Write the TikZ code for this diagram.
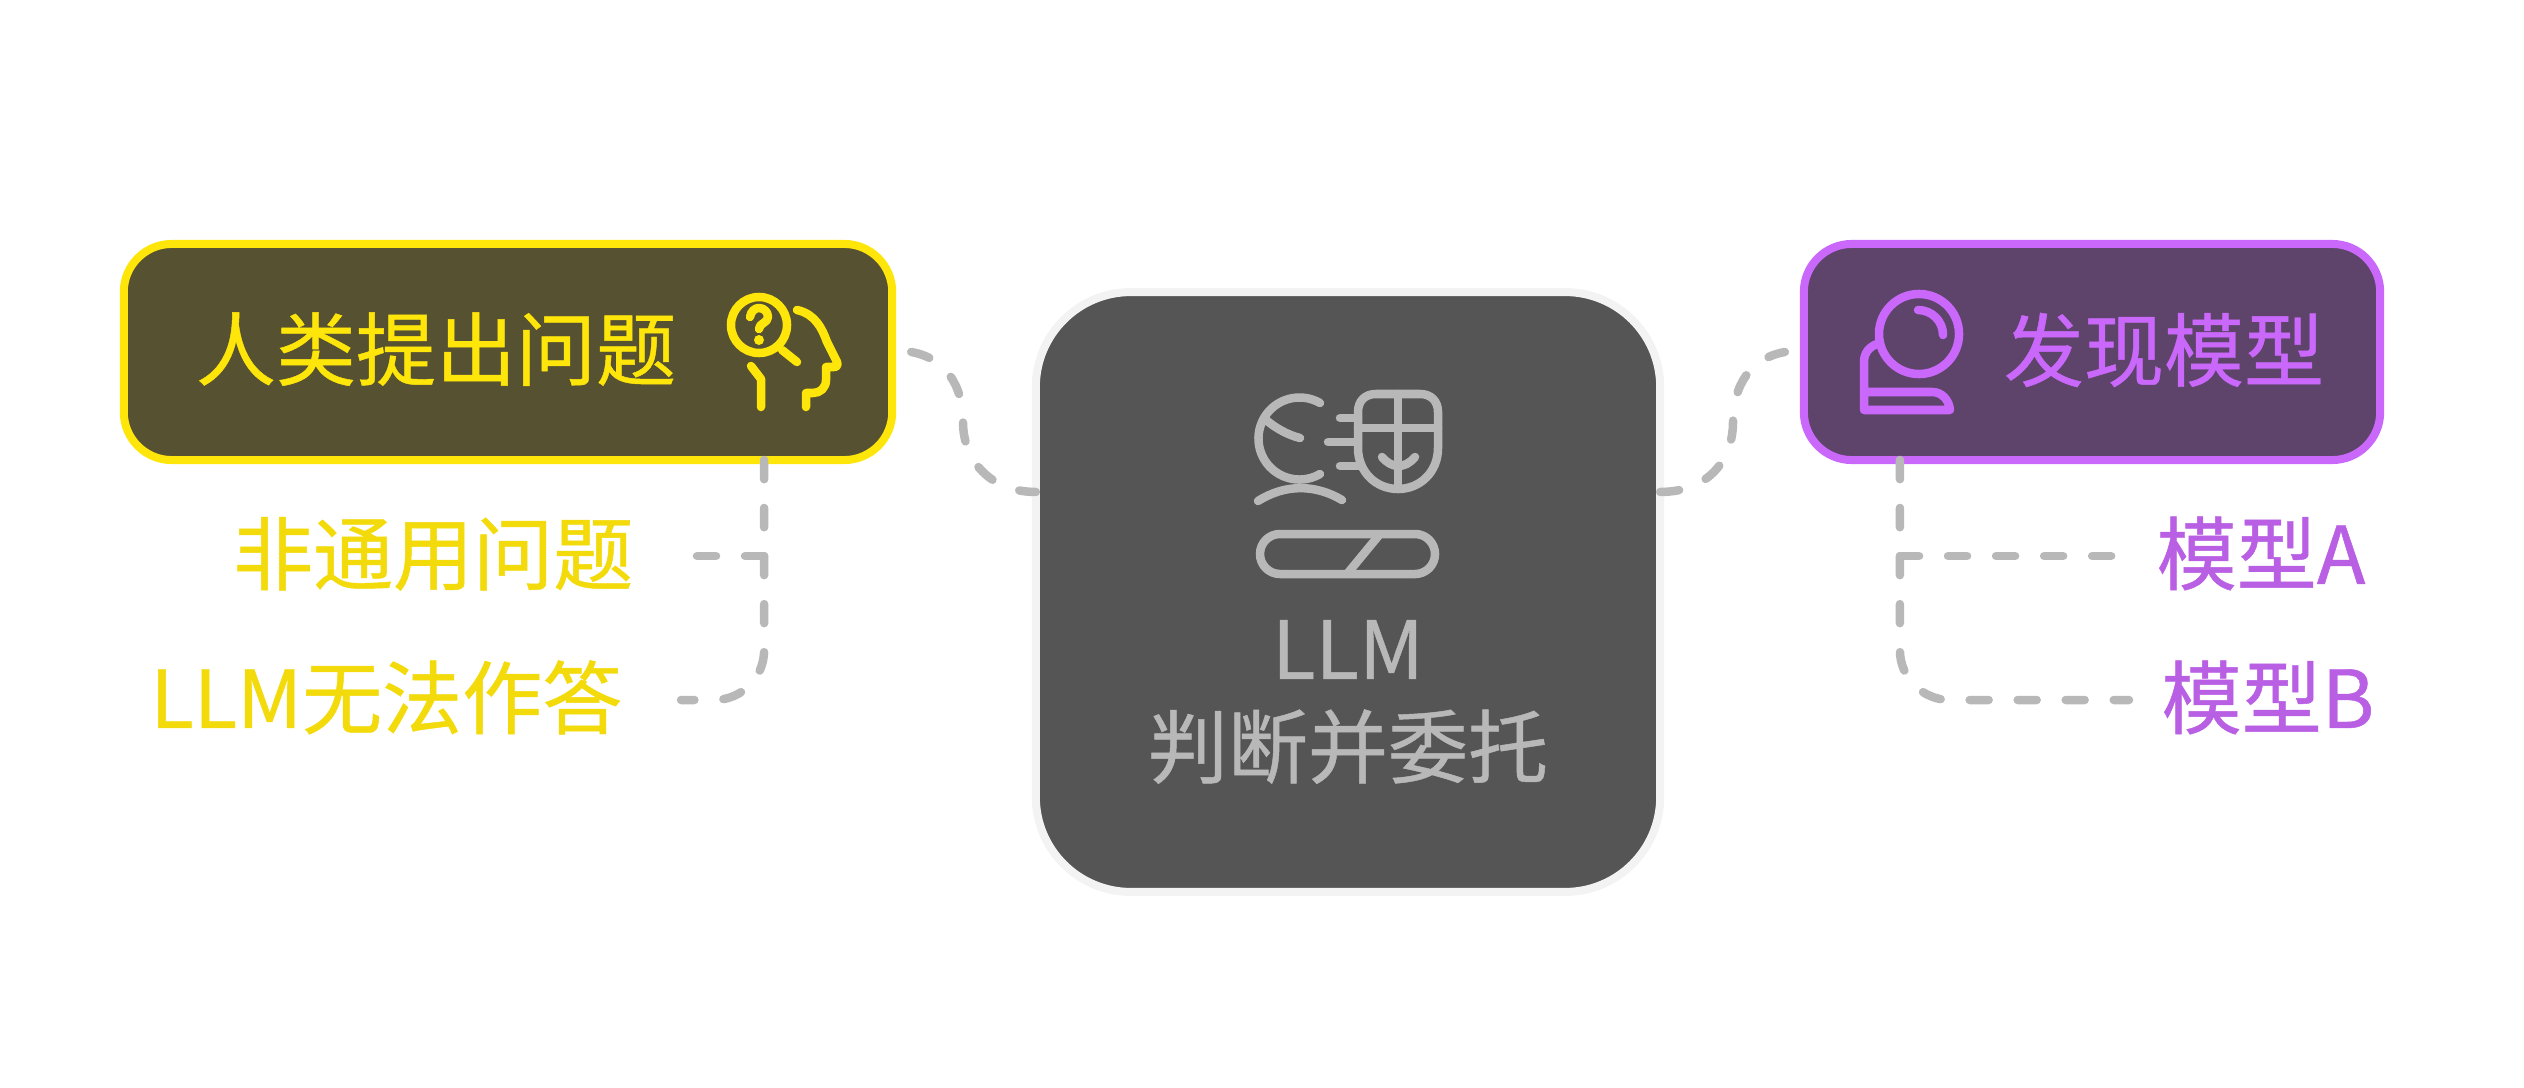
\documentclass[tikz,border=0pt]{standalone}
\usepackage{fontspec}
\setmainfont[RawFeature={embolden=0.6}]{Noto Sans CJK SC}
\usetikzlibrary{positioning}
\definecolor{myyellow}{RGB}{255,230,10}
\definecolor{darkyellow}{RGB}{86,81,48}
\definecolor{labelyellow}{RGB}{242,218,11}
\definecolor{mypurple}{RGB}{201,104,250}
\definecolor{darkpurple}{RGB}{94,68,107}
\definecolor{labelpurple}{RGB}{185,95,228}
\definecolor{mygrey}{RGB}{184,184,184}
\definecolor{darkgrey}{RGB}{85,85,85}
\definecolor{coreedge}{RGB}{243,243,243}
\begin{document}
\begin{tikzpicture}[
            x=0.01cm, y=-0.01cm,
            box/.style={line width=0.08cm, inner sep=0pt, outer sep=0pt, rounded corners=0.48cm, minimum height=2.16cm},
            lbl/.style={inner sep=0pt, text height=0.704cm, text depth=0.096cm, font=\fontsize{22.76}{27}\selectfont},
            arr/.style={line width=0.085cm, mygrey, line cap=round, dash pattern=on 0.19cm off 0.29cm},
            glyph/.style={line width=0.085cm, line cap=round, line join=round}
        ]
            \useasboundingbox (0,0) rectangle (2524,1088);

            \node[box, draw=myyellow, fill=darkyellow, minimum width=7.68cm] (human) at (508,352) {};
            \node[box, draw=mypurple, fill=darkpurple, minimum width=5.76cm] (finder) at (2092,352) {};
            \node[box, draw=coreedge, fill=darkgrey, minimum width=6.24cm, minimum height=5.995cm, rounded corners=0.95cm] (core) at (1348,592) {};

            \node[lbl, myyellow] (humantitle) at (436,349) {人类提出问题};
            \node[lbl, mypurple] (findertitle) at (2164,350) {发现模型};
            \node[mygrey, inner sep=0pt, align=center, font=\fontsize{22.76}{27.9}\selectfont] (coretitle) at (1348,702) {LLM\\判断并委托};

            \node[lbl, labelyellow, anchor=east] (q1) at (634,553.5) {非通用问题};
            \node[lbl, labelyellow, anchor=east] (q2) at (623,697.5) {LLM无法作答};
            \node[lbl, labelpurple, anchor=west] (m1) at (2156,553.5) {模型A};
            \node[lbl, labelpurple, anchor=west] (m2) at (2161,697.5) {模型B};

            % connectors
            \coordinate (hdrop) at ([xshift=2.56cm]human.south);
            \coordinate (fdrop) at ([xshift=-1.92cm]finder.south);
            \draw[arr] ([xshift=0.19cm]human.east) .. controls (945,358) and (963,385) .. (963,422) .. controls (963,460) and (990,492) .. ([yshift=1cm]core.west);
            \draw[arr] ([yshift=1cm]core.east) .. controls (1708,492) and (1733,460) .. (1733,422) .. controls (1733,385) and (1751,358) .. ([xshift=-0.19cm]finder.west);
            \draw[arr] (hdrop) |- ([xshift=0.62cm,yshift=-0.025cm]q1.east);
            \draw[arr, rounded corners=0.5cm] (hdrop) |- ([xshift=0.58cm,yshift=-0.025cm]q2.east);
            \draw[arr] (fdrop) |- ([xshift=-0.44cm,yshift=-0.025cm]m1.west);
            \draw[arr, rounded corners=0.5cm] (fdrop) |- ([xshift=-0.32cm,yshift=-0.025cm]m2.west);

            % human icon
            \draw[glyph, myyellow] (759,325) circle[radius=0.28cm];
            \draw[glyph, myyellow] (782,350) -- (797,362);
            \draw[glyph, myyellow] (750,317) .. controls (751,311) and (755,308) .. (759,308) .. controls (764,308) and (768,312) .. (768,317) .. controls (768,323) and (759,323) .. (759,329);
            \fill[myyellow] (759,340) circle[radius=0.05cm];
            \draw[glyph, myyellow] (797,310) .. controls (815,314) and (822,328) .. (827,342) -- (837,362) .. controls (838,365) and (837,367) .. (834,367) -- (826,367) -- (826,380) .. controls (826,388) and (820,393) .. (813,393) -- (806,393) -- (806,407);
            \draw[glyph, myyellow] (751,366) -- (761,379) -- (761,407);

            % finder icon
            \draw[glyph, mypurple] (1919,334) circle[radius=0.4cm];
            \draw[glyph, mypurple] (1918,310) arc[start angle=90, end angle=0, radius=0.25cm];
            \draw[glyph, mypurple] (1877,344) .. controls (1869,347) and (1864,353) .. (1864,362) -- (1864,410) -- (1950,410) .. controls (1949,400) and (1942,392) .. (1932,392) -- (1864,392);

            % core icon
            \draw[glyph, mygrey] (1320,403) arc[start angle=60, end angle=300, radius=0.41cm];
            \draw[glyph, mygrey] (1265,419) .. controls (1275,428) and (1288,435) .. (1300,438);
            \draw[glyph, mygrey] (1258,501) .. controls (1285,484) and (1315,484) .. (1342,500);
            \draw[glyph, mygrey] (1358,428) -- (1358,412) .. controls (1358,401) and (1365,394) .. (1376,394) -- (1420,394) .. controls (1431,394) and (1438,401) .. (1438,412) -- (1438,448) .. controls (1438,472) and (1420,489) .. (1398,489) .. controls (1376,489) and (1358,472) .. (1358,448) -- cycle;
            \draw[glyph, mygrey] (1398,394) -- (1398,489);
            \draw[glyph, mygrey] (1358,428) -- (1438,428);
            \draw[glyph, mygrey] (1382,457) .. controls (1392,469) and (1405,469) .. (1415,457);
            \draw[glyph, mygrey] (1340,418) -- (1358,418);
            \draw[glyph, mygrey] (1328,442) -- (1358,442);
            \draw[glyph, mygrey] (1340,466) -- (1360,466);
            \draw[glyph, mygrey] (1280,534) -- (1415,534) arc[start angle=90, end angle=-90, radius=0.2cm] -- (1280,574) arc[start angle=270, end angle=90, radius=0.2cm] -- cycle;
            \draw[line width=0.085cm, mygrey] (1380,534) -- (1347,574);
        \end{tikzpicture}
\end{document}
